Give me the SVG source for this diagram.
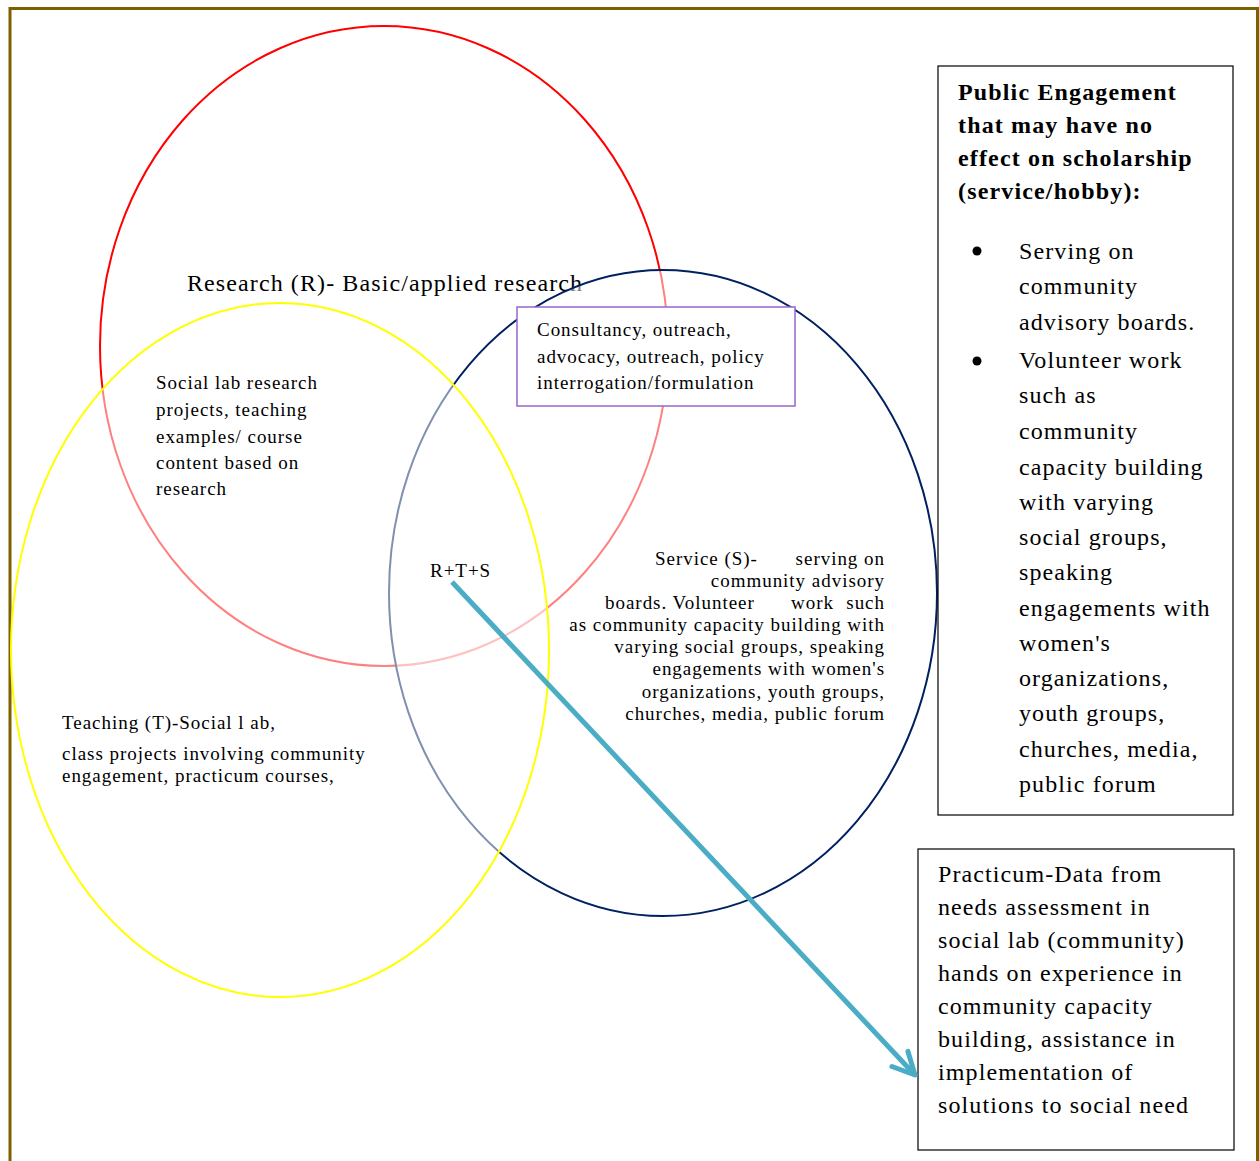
<svg xmlns="http://www.w3.org/2000/svg" width="1259" height="1161" viewBox="0 0 1259 1161">
<style>
text{font-family:"Liberation Serif","Times New Roman",serif;fill:#000}
.s19{font-size:19px;letter-spacing:0.97px}
.s24{font-size:24px;letter-spacing:1.1px}
.b{font-weight:bold;letter-spacing:1.15px}
.end{text-anchor:end}
.ell{fill:#fff;fill-opacity:0.5;stroke-width:2}
.box{fill:#fff;stroke:#000;stroke-width:1.2}
</style>
<defs>
<marker id="arrow" markerUnits="userSpaceOnUse" markerWidth="40" markerHeight="40" viewBox="0 0 40 40" refX="30" refY="20" orient="auto">
<path d="M8,9 L30,20 L8,31" fill="none" stroke="#4bacc6" stroke-width="5" stroke-linecap="round" stroke-linejoin="round"/>
</marker>
</defs>
<rect width="1259" height="1161" fill="#fff"/>
<path d="M10,1161 V8.5 H1257.5 V1161" fill="none" stroke="#7f6000" stroke-width="3"/>

<g id="research">
<ellipse class="ell" cx="384" cy="346" rx="284" ry="320" stroke="#ff0000"/>
<text class="s24" x="187" y="291">Research (R)- Basic/applied research</text>
</g>
<g id="service">
<ellipse class="ell" cx="663" cy="593" rx="274" ry="323" stroke="#002060"/>
</g>
<g id="teaching">
<ellipse class="ell" cx="280" cy="650" rx="269" ry="347" stroke="#ffff00"/>
</g>

<g id="research-teaching">
<text class="s19" x="156" y="389">Social lab research</text>
<text class="s19" x="156" y="416">projects, teaching</text>
<text class="s19" x="156" y="443">examples/ course</text>
<text class="s19" x="156" y="469">content based on</text>
<text class="s19" x="156" y="495">research</text>
</g>

<g id="consultancy">
<rect x="517" y="307" width="278" height="99" fill="#fff" stroke="#9966cc" stroke-width="1.5"/>
<text class="s19" x="537" y="336">Consultancy, outreach,</text>
<text class="s19" x="537" y="363">advocacy, outreach, policy</text>
<text class="s19" x="537" y="389">interrogation/formulation</text>
</g>

<g id="rts">
<text class="s19" x="430" y="577">R+T+S</text>
</g>

<g id="service-text">
<text class="s19" x="655" y="565">Service (S)-</text>
<text class="s19 end" x="885" y="565">serving on</text>
<text class="s19 end" x="885" y="587">community advisory</text>
<text class="s19" x="605" y="609">boards. Volunteer</text>
<text class="s19" x="791" y="609">work</text>
<text class="s19 end" x="885" y="609">such</text>
<text class="s19 end" x="885" y="631">as community capacity building with</text>
<text class="s19 end" x="885" y="653">varying social groups, speaking</text>
<text class="s19 end" x="885" y="675">engagements with women's</text>
<text class="s19 end" x="885" y="698">organizations, youth groups,</text>
<text class="s19 end" x="885" y="720">churches, media,  public forum</text>
</g>

<g id="teaching-text">
<text class="s19" x="62" y="729">Teaching (T)-Social l ab,</text>
<text class="s19" x="62" y="760">class projects involving community</text>
<text class="s19" x="62" y="782">engagement, practicum courses,</text>
</g>

<g id="public-engagement">
<rect class="box" x="938" y="66" width="295" height="749"/>
<text class="s24 b" x="958" y="100">Public Engagement</text>
<text class="s24 b" x="958" y="133">that may have no</text>
<text class="s24 b" x="958" y="166">effect on scholarship</text>
<text class="s24 b" x="958" y="199">(service/hobby):</text>
<circle cx="977" cy="251" r="4.5" fill="#000"/>
<circle cx="977" cy="361" r="4.5" fill="#000"/>
<text class="s24" x="1019" y="259">Serving on</text>
<text class="s24" x="1019" y="294">community</text>
<text class="s24" x="1019" y="330">advisory boards.</text>
<text class="s24" x="1019" y="368">Volunteer work</text>
<text class="s24" x="1019" y="403">such as</text>
<text class="s24" x="1019" y="439">community</text>
<text class="s24" x="1019" y="475">capacity building</text>
<text class="s24" x="1019" y="510">with varying</text>
<text class="s24" x="1019" y="545">social groups,</text>
<text class="s24" x="1019" y="580">speaking</text>
<text class="s24" x="1019" y="616">engagements with</text>
<text class="s24" x="1019" y="651">women's</text>
<text class="s24" x="1019" y="686">organizations,</text>
<text class="s24" x="1019" y="721">youth groups,</text>
<text class="s24" x="1019" y="757">churches, media,</text>
<text class="s24" x="1019" y="792">public forum</text>
</g>

<g id="practicum">
<rect class="box" x="918" y="849" width="316" height="301"/>
<text class="s24" x="938" y="882">Practicum-Data from</text>
<text class="s24" x="938" y="915">needs assessment in</text>
<text class="s24" x="938" y="948">social lab (community)</text>
<text class="s24" x="938" y="981">hands on experience in</text>
<text class="s24" x="938" y="1014">community capacity</text>
<text class="s24" x="938" y="1047">building, assistance in</text>
<text class="s24" x="938" y="1080">implementation of</text>
<text class="s24" x="938" y="1113">solutions to social need</text>
</g>

<g id="connectors">
<line x1="452" y1="582" x2="915" y2="1075" stroke="#4bacc6" stroke-width="5" marker-end="url(#arrow)"/>
</g>
</svg>
